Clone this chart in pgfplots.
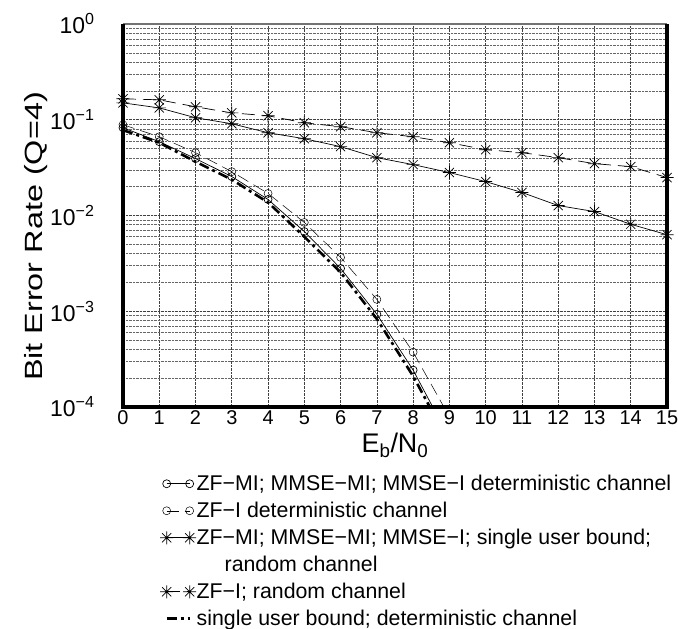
\documentclass[border=0pt]{standalone}
\usepackage{fontspec}
\setmainfont{Liberation Sans}
\usepackage{graphicx}
\usepackage{pgfplots}
\pgfplotsset{compat=1.18}

% matlab-like '*' marker: plus and cross together
\pgfdeclareplotmark{ast8}{%
  \pgfpathmoveto{\pgfqpoint{0pt}{\pgfplotmarksize}}%
  \pgfpathlineto{\pgfqpoint{0pt}{-\pgfplotmarksize}}%
  \pgfpathmoveto{\pgfqpoint{\pgfplotmarksize}{0pt}}%
  \pgfpathlineto{\pgfqpoint{-\pgfplotmarksize}{0pt}}%
  \pgfpathmoveto{\pgfqpoint{.707\pgfplotmarksize}{.707\pgfplotmarksize}}%
  \pgfpathlineto{\pgfqpoint{-.707\pgfplotmarksize}{-.707\pgfplotmarksize}}%
  \pgfpathmoveto{\pgfqpoint{-.707\pgfplotmarksize}{.707\pgfplotmarksize}}%
  \pgfpathlineto{\pgfqpoint{.707\pgfplotmarksize}{-.707\pgfplotmarksize}}%
  \pgfusepathqstroke}

\begin{document}
\begin{tikzpicture}
\useasboundingbox (-123bp,-222bp) rectangle (555bp,407bp);
\begin{axis}[
  scale only axis, width=544bp, height=383bp,
  xmin=0, xmax=15, ymin=1e-4, ymax=1, ymode=log,
  xtick={0,...,15},
  ytick={1e-4,1e-3,1e-2,1e-1,1},
  yticklabels={10\textsuperscript{−4},10\textsuperscript{−3},10\textsuperscript{−2},10\textsuperscript{−1},10\textsuperscript{0}},
  xticklabels={0,1,2,3,4,5,6,7,8,9,10,11,12,13,14,15},
  major tick length=0pt, minor tick length=0pt,
  grid=both,
  major grid style={black!75, densely dotted, line width=0.6bp},
  minor grid style={black!60, densely dotted, line width=0.6bp},
  axis line style={draw=none},
  clip mode=individual,
  xticklabel style={font=\fontsize{20}{22}\selectfont, text height=14bp, text depth=0bp},
  yticklabel style={font=\fontsize{23}{25}\selectfont, xshift=-25bp},
  xlabel={E\textsubscript{b}/N\textsubscript{0}},
  ylabel={\scalebox{1.3}[1]{Bit Error Rate (Q=4)}},
  xlabel style={font=\fontsize{27}{29}\selectfont, at={(axis description cs:0.5,-0.1)}, anchor=center},
  ylabel style={font=\fontsize{25}{27}\selectfont, at={(axis description cs:-0.16,0.445)}, anchor=center},
  legend image code/.code={\draw[#1] plot coordinates {(0bp,7bp) (23bp,7bp)};},
  legend style={at={(axis description cs:0.068,-0.179)}, anchor=north west,
    draw=none, fill=none, inner sep=0pt, font=\fontsize{21.4}{23}\selectfont,
    cells={anchor=base west}, row sep=8bp, column sep=0.5bp,
    nodes={inner sep=0bp, text height=15bp, text depth=4bp}},
]
\addplot[black, line width=0.7bp, mark=o, mark size=4bp] coordinates {
(0,0.0826) (1,0.059) (2,0.0393) (3,0.0255) (4,0.0147) (5,0.0068)
(6,0.0028) (7,0.00093) (8,0.000243) (9,0.000047)};
\addlegendentry{ZF−MI; MMSE−MI; MMSE−I deterministic channel}
\addplot[black, line width=0.5bp, dash pattern=on 12bp off 6bp, mark=o, mark size=4bp,
  mark options={solid}] coordinates {
(0,0.0887) (1,0.0665) (2,0.0453) (3,0.0287) (4,0.0170) (5,0.00846)
(6,0.00365) (7,0.00133) (8,0.000374) (9,0.000079)};
\addlegendentry{ZF−I deterministic channel}
\addplot[black, line width=0.7bp, mark=ast8, mark size=6.5bp] coordinates {
(0,0.150) (1,0.133) (2,0.105) (3,0.0908) (4,0.0732) (5,0.0634)
(6,0.0524) (7,0.0402) (8,0.034) (9,0.0281) (10,0.0226) (11,0.0174)
(12,0.0127) (13,0.0110) (14,0.0081) (15,0.0063)};
\addlegendentry{ZF−MI; MMSE−MI; MMSE−I; single user bound;}
\addlegendimage{empty legend}
\addlegendentry{\hspace*{28bp}random channel}
\addplot[black, line width=0.7bp, dash pattern=on 13bp off 7bp, mark=ast8, mark size=6.5bp,
  mark options={solid}] coordinates {
(0,0.1655) (1,0.1615) (2,0.1365) (3,0.118) (4,0.110) (5,0.093)
(6,0.0846) (7,0.0732) (8,0.0665) (9,0.0576) (10,0.0487) (11,0.0453)
(12,0.0402) (13,0.0348) (14,0.0324) (15,0.0249)};
\addlegendentry{ZF−I; random channel}
\addplot[black, line width=2.6bp, dash pattern=on 10bp off 4bp on 3bp off 4bp] coordinates {
(0,0.078) (1,0.0576) (2,0.0365) (3,0.0237) (4,0.0137) (5,0.0060)
(6,0.00255) (7,0.00083) (8,0.00021) (9,0.000042)};
\addlegendentry{single user bound; deterministic channel}
% frame
\draw[black!55, line width=1.5bp] (rel axis cs:0,1) -- (rel axis cs:1,1);
\draw[black, line width=3.5bp] (rel axis cs:0,1) -- (rel axis cs:0,0) -- (rel axis cs:1,0) -- (rel axis cs:1,1);
\end{axis}
\end{tikzpicture}
\end{document}
